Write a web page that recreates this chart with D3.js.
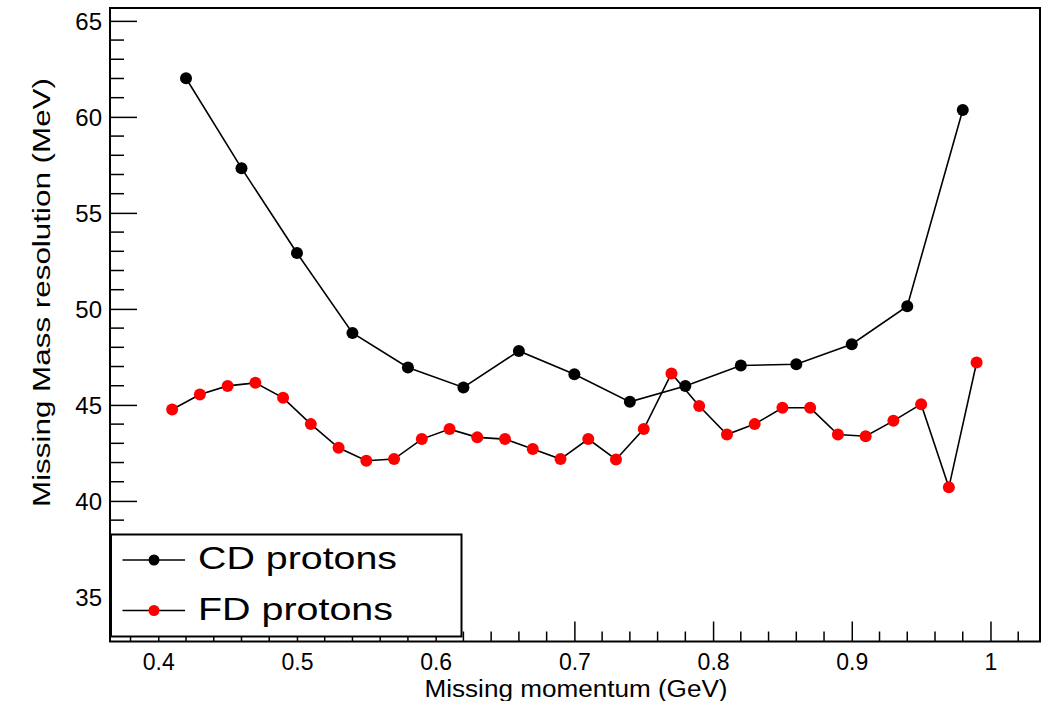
<!DOCTYPE html>
<html>
<head>
<meta charset="utf-8">
<script src="https://cdn.jsdelivr.net/npm/d3@7"></script>
<style>
  html, body { margin: 0; padding: 0; background: #fff; }
  svg { display: block; font-family: "Liberation Sans", Arial, Helvetica, sans-serif; }
</style>
</head>
<body>
<svg id="chart" width="1049" height="701"></svg>
<script>
// Missing momentum bins (GeV) and resolution (MeV) for each detector
const cdMomentum = [0.42, 0.46, 0.50, 0.54, 0.58, 0.62, 0.66, 0.70, 0.74, 0.78, 0.82, 0.86, 0.90, 0.94, 0.98];
const cdResolution = [62.01, 57.33, 52.91, 48.75, 46.95, 45.91, 47.81, 46.60, 45.16, 45.98, 47.05, 47.12, 48.16, 50.14, 60.36];

const fdMomentum = [0.41, 0.43, 0.45, 0.47, 0.49, 0.51, 0.53, 0.55, 0.57, 0.59,
                    0.61, 0.63, 0.65, 0.67, 0.69, 0.71, 0.73, 0.75, 0.77, 0.79,
                    0.81, 0.83, 0.85, 0.87, 0.89, 0.91, 0.93, 0.95, 0.97, 0.99];
const fdResolution = [44.76, 45.54, 45.99, 46.15, 45.37, 44.00, 42.77, 42.09, 42.18, 43.22,
                      43.74, 43.31, 43.22, 42.70, 42.18, 43.22, 42.16, 43.74, 46.64, 44.94,
                      43.46, 44.00, 44.85, 44.85, 43.46, 43.37, 44.17, 45.04, 40.71, 47.21];

const xMajorTicks = [0.4, 0.5, 0.6, 0.7, 0.8, 0.9, 1.0];
const xTickLabels = ["0.4", "0.5", "0.6", "0.7", "0.8", "0.9", "1"];
const yMajorTicks = [35, 40, 45, 50, 55, 60, 65];
const yTickLabels = ["35", "40", "45", "50", "55", "60", "65"];

const seriesNames = ["CD protons", "FD protons"];
const seriesColors = ["#000000", "#ff0000"];

const svg = d3.select("#chart");
const frame = { left: 110, right: 1040, top: 8, bottom: 641.5 };

const x = d3.scaleLinear().domain([0.3652, 1.0357]).range([frame.left, frame.right]);
const y = d3.scaleLinear().domain([32.68, 65.67]).range([frame.bottom, frame.top]);

// Minor tick positions
const xMinor = d3.range(0.38, 1.035, 0.02).map(v => +v.toFixed(2))
  .filter(v => !xMajorTicks.some(m => Math.abs(m - v) < 1e-6));
const yMinor = d3.range(33, 66, 1).filter(v => v % 5 !== 0);

// Bottom axis: ticks drawn inward (upward)
const xAxisG = svg.append("g").attr("transform", `translate(0,${frame.bottom})`);
xAxisG.call(d3.axisBottom(x).tickValues(xMajorTicks).tickSize(-20)
  .tickFormat((d, i) => xTickLabels[i]).tickPadding(0));
xAxisG.select(".domain").remove();
xAxisG.selectAll(".tick line").attr("stroke", "#000").attr("stroke-width", 1.5);
xAxisG.selectAll(".tick text")
  .attr("y", 28.5).attr("dy", null)
  .attr("font-size", 23).attr("fill", "#000")
  .attr("font-family", "Liberation Sans, Arial, sans-serif");
xAxisG.selectAll(".minor").data(xMinor).enter().append("line")
  .attr("class", "minor")
  .attr("x1", d => x(d)).attr("x2", d => x(d))
  .attr("y1", 0).attr("y2", -10)
  .attr("stroke", "#000").attr("stroke-width", 1.5);

// Left axis: ticks drawn inward (rightward)
const yAxisG = svg.append("g").attr("transform", `translate(${frame.left},0)`);
yAxisG.call(d3.axisLeft(y).tickValues(yMajorTicks).tickSize(-27)
  .tickFormat((d, i) => yTickLabels[i]).tickPadding(0));
yAxisG.select(".domain").remove();
yAxisG.selectAll(".tick line").attr("stroke", "#000").attr("stroke-width", 1.5);
yAxisG.selectAll(".tick text")
  .attr("x", -8).attr("dy", "0.36em")
  .attr("font-size", 24).attr("fill", "#000")
  .attr("font-family", "Liberation Sans, Arial, sans-serif");
yAxisG.selectAll(".minor").data(yMinor).enter().append("line")
  .attr("class", "minor")
  .attr("x1", 0).attr("x2", 14)
  .attr("y1", d => y(d)).attr("y2", d => y(d))
  .attr("stroke", "#000").attr("stroke-width", 1.5);

// Series: black connecting lines with filled circle markers
const line = d3.line().x(d => x(d[0])).y(d => y(d[1]));
const series = [
  d3.zip(cdMomentum, cdResolution),
  d3.zip(fdMomentum, fdResolution)
];

series.forEach((pts, i) => {
  svg.append("path")
    .datum(pts)
    .attr("d", line)
    .attr("fill", "none")
    .attr("stroke", "#000")
    .attr("stroke-width", 1.6);
});
series.forEach((pts, i) => {
  svg.append("g").selectAll("circle").data(pts).enter().append("circle")
    .attr("cx", d => x(d[0]))
    .attr("cy", d => y(d[1]))
    .attr("r", 6)
    .attr("fill", seriesColors[i]);
});

// Legend box (white fill hides the axis ticks behind it)
const legend = { x0: 111, y0: 534.5, x1: 461.5, y1: 636.5 };
svg.append("rect")
  .attr("x", legend.x0).attr("y", legend.y0)
  .attr("width", legend.x1 - legend.x0).attr("height", legend.y1 - legend.y0)
  .attr("fill", "#fff").attr("stroke", "#000").attr("stroke-width", 2);

const legendRows = [
  { cy: 560, base: 568.5, width: 199 },
  { cy: 610.5, base: 620, width: 195 }
];
legendRows.forEach((row, i) => {
  svg.append("line")
    .attr("x1", 122.5).attr("x2", 185)
    .attr("y1", row.cy).attr("y2", row.cy)
    .attr("stroke", "#000").attr("stroke-width", 1.6);
  svg.append("circle")
    .attr("cx", 154).attr("cy", row.cy).attr("r", 5.5)
    .attr("fill", seriesColors[i]);
  svg.append("text")
    .attr("x", 198).attr("y", row.base)
    .attr("font-size", 32)
    .attr("textLength", row.width).attr("lengthAdjust", "spacingAndGlyphs")
    .attr("fill", "#000")
    .text(seriesNames[i]);
});

// Plot frame
svg.append("rect")
  .attr("x", frame.left).attr("y", frame.top)
  .attr("width", frame.right - frame.left).attr("height", frame.bottom - frame.top)
  .attr("fill", "none").attr("stroke", "#000").attr("stroke-width", 2);

// Axis titles
svg.append("text")
  .attr("x", 576).attr("y", 696.5)
  .attr("text-anchor", "middle")
  .attr("font-size", 23)
  .attr("textLength", 303).attr("lengthAdjust", "spacingAndGlyphs")
  .attr("fill", "#000")
  .text("Missing momentum (GeV)");

svg.append("text")
  .attr("transform", "translate(50,292.5) rotate(-90)")
  .attr("text-anchor", "middle")
  .attr("font-size", 23)
  .attr("textLength", 429).attr("lengthAdjust", "spacingAndGlyphs")
  .attr("fill", "#000")
  .text("Missing Mass resolution (MeV)");
</script>
</body>
</html>
